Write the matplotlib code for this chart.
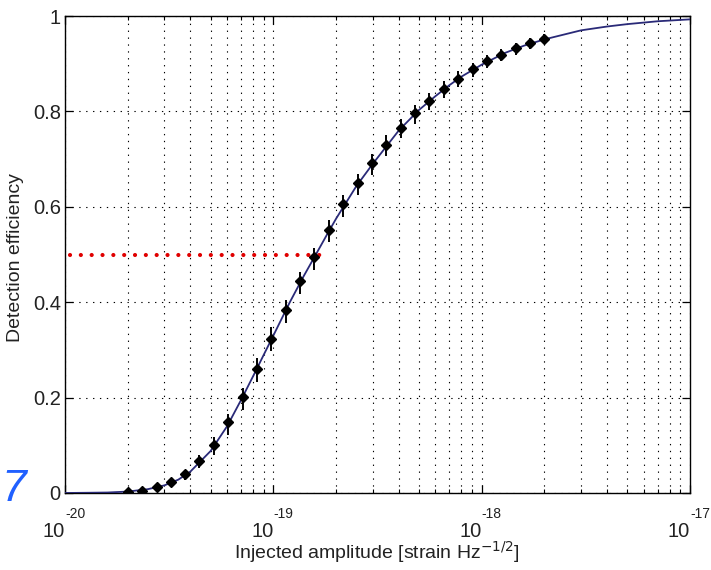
import numpy as np
import matplotlib
matplotlib.use("Agg")
import matplotlib.pyplot as plt

# =====================================
# Data
# =====================================

amplitude = [
    2.00e-20, 2.35e-20, 2.75e-20, 3.22e-20, 3.77e-20, 4.42e-20,
    5.19e-20, 6.08e-20, 7.12e-20, 8.35e-20, 9.79e-20, 1.147e-19,
    1.345e-19, 1.576e-19, 1.847e-19, 2.165e-19, 2.54e-19, 2.97e-19,
    3.49e-19, 4.09e-19, 4.79e-19, 5.61e-19, 6.58e-19, 7.71e-19,
    9.04e-19, 1.06e-18, 1.24e-18, 1.46e-18, 1.71e-18, 2.00e-18
]

efficiency = [
    0.003, 0.005, 0.013, 0.022, 0.039, 0.068,
    0.101, 0.148, 0.201, 0.260, 0.323, 0.384,
    0.444, 0.494, 0.552, 0.605, 0.649, 0.691,
    0.730, 0.766, 0.796, 0.822, 0.848, 0.869,
    0.888, 0.906, 0.919, 0.932, 0.943, 0.952
]

err_low = [
    0.004, 0.005, 0.007, 0.009, 0.012, 0.016,
    0.022, 0.026, 0.028, 0.028, 0.026, 0.027,
    0.026, 0.026, 0.026, 0.026, 0.024, 0.024,
    0.024, 0.022, 0.022, 0.020, 0.019, 0.018,
    0.016, 0.015, 0.014, 0.013, 0.012, 0.011
]

err_high = [
    0.003, 0.004, 0.005, 0.006, 0.008, 0.011,
    0.016, 0.018, 0.020, 0.022, 0.024, 0.020,
    0.020, 0.020, 0.020, 0.020, 0.020, 0.020,
    0.020, 0.019, 0.018, 0.017, 0.016, 0.015,
    0.014, 0.013, 0.012, 0.011, 0.010, 0.010
]

# fitted curve
fit_amplitude = [
    1e-20, 1.3e-20, 1.6e-20, 2e-20, 2.5e-20, 3e-20, 3.5e-20, 4e-20,
    5e-20, 6e-20, 7e-20, 8e-20, 9e-20, 1e-19, 1.2e-19, 1.4e-19,
    1.6e-19, 1.8e-19, 2e-19, 2.5e-19, 3e-19, 4e-19, 5e-19, 6e-19,
    7e-19, 8e-19, 1e-18, 1.3e-18, 1.6e-18, 2e-18, 3e-18, 4e-18,
    5e-18, 7e-18, 1e-17
]

fit_efficiency = [
    0.0, 0.0005, 0.001, 0.003, 0.008, 0.016, 0.028, 0.045,
    0.088, 0.140, 0.195, 0.245, 0.290, 0.330, 0.400, 0.455,
    0.500, 0.540, 0.575, 0.643, 0.690, 0.760, 0.803, 0.832,
    0.855, 0.873, 0.898, 0.923, 0.938, 0.951, 0.970, 0.978,
    0.983, 0.989, 0.993
]

# 50% efficiency marker
half_level = 0.5
half_start = 1.06e-20
half_amplitude = 1.69e-19

x_decades = [1e-20, 1e-19, 1e-18, 1e-17]
x_exponents = ["-20", "-19", "-18", "-17"]
y_ticks = [0, 0.2, 0.4, 0.6, 0.8, 1]
y_ticklabels = ["0", "0.2", "0.4", "0.6", "0.8", "1"]

# =====================================
# Figure
# =====================================

plt.rcParams["font.family"] = ["Liberation Sans", "DejaVu Sans"]
text_color = "#222222"

fig = plt.figure(figsize=(7.11, 5.70), dpi=100)
ax = fig.add_axes([0.0914, 0.1351, 0.8791, 0.8368])

ax.set_xscale("log")
ax.set_xlim(1e-20, 1e-17)
ax.set_ylim(0, 1)

# grid
ax.grid(True, which="major", color="black", linestyle=(0, (1.2, 5)), linewidth=0.8)
ax.grid(True, which="minor", axis="x", color="black", linestyle=(0, (1.2, 5)), linewidth=0.8)

# fit curve
ax.plot(fit_amplitude, fit_efficiency, color="#2a2a78", linewidth=1.3, zorder=3)

# red dotted line at 50%
ax.plot(
    [half_start, half_amplitude],
    [half_level, half_level],
    color="#e00000",
    linewidth=3,
    linestyle=(0, (0.01, 2.59)),
    dash_capstyle="round",
    zorder=4
)

# measured points
ax.errorbar(
    amplitude,
    efficiency,
    yerr=[err_low, err_high],
    fmt="none",
    ecolor="black",
    elinewidth=1.4,
    capsize=0,
    zorder=5
)

ax.plot(amplitude, efficiency, "D", color="black", markersize=4.8, zorder=6)

# =====================================
# Axes styling (MATLAB look)
# =====================================

for s in ax.spines.values():
    s.set_linewidth(1.0)
    s.set_color("black")

ax.tick_params(which="both", direction="in", top=True, right=True, colors="black", labelcolor=text_color)
ax.tick_params(which="major", length=6, width=0.9, labelsize=14.5, pad=3)
ax.tick_params(which="minor", length=3, width=0.8)

ax.set_yticks(y_ticks)
ax.set_yticklabels(y_ticklabels)

ax.set_xticks(x_decades)
ax.set_xticklabels(["" for _ in x_decades])

xt = ax.get_xaxis_transform()
for xv, ex in zip(x_decades, x_exponents):
    ax.text(xv, -0.080, "10", transform=xt, ha="right", va="center",
            fontsize=14.5, color=text_color, clip_on=False)
    ax.text(xv, -0.043, ex, transform=xt, ha="left", va="center",
            fontsize=10, color=text_color, clip_on=False)

fig.text(0.530, 0.031, r"Injected amplitude [strain Hz$^{-1/2}$]",
         ha="center", va="center", fontsize=14, color=text_color)
fig.text(0.022, 0.549, "Detection efficiency",
         ha="center", va="center", rotation=90, fontsize=14, color=text_color)

# blue glyph at the left edge
fig.text(0.002, 0.142, "7", ha="left", va="center", fontsize=32,
         style="italic", color="#2060ff")

fig.savefig("out.png", dpi=100)
